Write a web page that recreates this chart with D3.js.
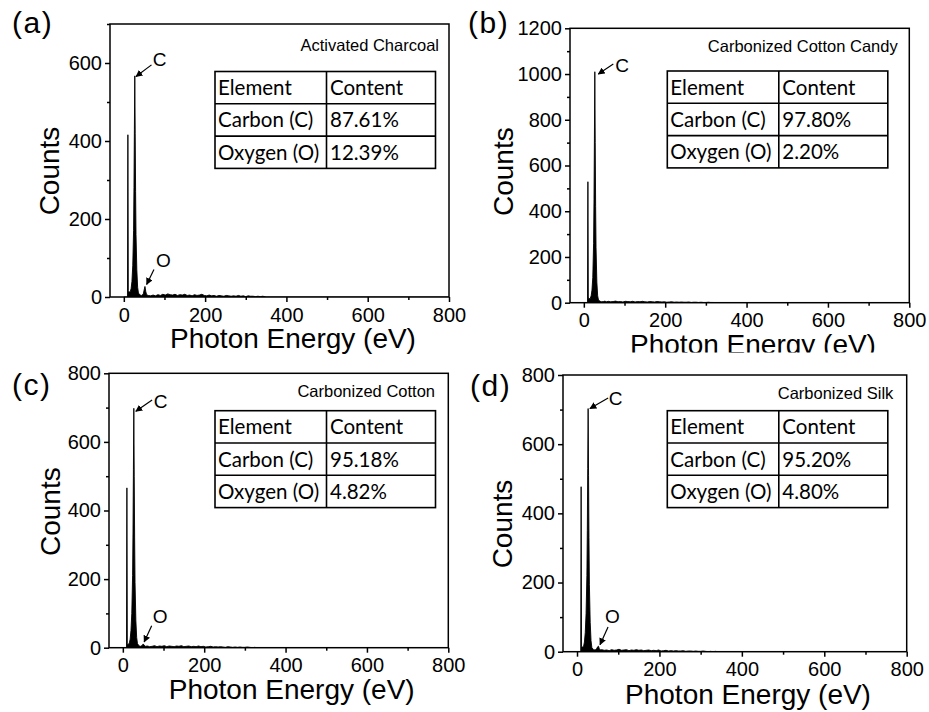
<!DOCTYPE html>
<html>
<head>
<meta charset="utf-8">
<script src="https://cdn.jsdelivr.net/npm/d3@7/dist/d3.min.js"></script>
<style>
  html, body { margin: 0; padding: 0; background: #fff; }
  svg { display: block; }
</style>
</head>
<body>
<svg id="fig" width="929" height="712"></svg>
<script>
// ---- Panel text ----
const panelTags = ["(a)", "(b)", "(c)", "(d)"];
const sampleNames = ["Activated Charcoal", "Carbonized Cotton Candy", "Carbonized Cotton", "Carbonized Silk"];
const tableHeader = ["Element", "Content"];
const elementNames = ["Carbon (C)", "Oxygen (O)"];
const carbonContent = [87.61, 97.80, 95.18, 95.20];
const oxygenContent = [12.39, 2.20, 4.82, 4.80];

// ---- Axes ----
const xRange = [-34, 800];
const xTickValues = [0, 200, 400, 600, 800];
const xMinorTicks = [100, 300, 500, 700];
const yMaxima = [700, 1200, 800, 800];
const yTicksA = [0, 200, 400, 600];
const yTicksB = [0, 200, 400, 600, 800, 1000, 1200];
const yTicksCD = [0, 200, 400, 600, 800];
const yMinorA = [100, 300, 500, 700];
const yMinorB = [100, 300, 500, 700, 900, 1100];
const yMinorCD = [100, 300, 500, 700];

// ---- Spectra: low-energy region (spike, C line, O line) ----
const peakEnergy = [0, 8, 9, 10, 11, 12, 14, 16, 18, 20, 22, 24, 25, 26, 27, 28, 29, 30, 32, 34, 36, 40, 44, 48, 50, 52, 54, 56];
const peakCountsA = [0, 0, 0, 416, 16, 14, 13, 14, 22, 40, 80, 170, 280, 430, 567, 420, 270, 160, 70, 25, 10, 5, 4, 8, 18, 27, 14, 6];
const peakCountsB = [0, 0, 0, 529, 24, 20, 18, 20, 30, 55, 110, 260, 450, 720, 1010, 700, 420, 240, 90, 30, 12, 6, 4, 5, 6, 7, 5, 4];
const peakCountsC = [0, 0, 0, 466, 12, 10, 10, 14, 25, 50, 100, 210, 340, 520, 698, 500, 320, 190, 80, 30, 12, 5, 4, 7, 11, 8, 5, 4];
const peakCountsD = [0, 0, 0, 477, 16, 14, 13, 16, 28, 55, 110, 220, 350, 530, 703, 510, 330, 195, 85, 32, 12, 6, 5, 9, 14, 16, 9, 5];

// ---- Spectra: background tail ----
const tailEnergy = [60, 66, 72, 78, 84, 90, 96, 102, 108, 114, 120, 126, 132, 138, 144, 150, 156, 162, 168, 174, 180, 186, 192, 198,
  204, 210, 216, 222, 228, 234, 240, 246, 252, 258, 264, 270, 276, 282, 288, 294, 300, 306, 312, 318, 324, 330, 336, 342, 350, 800];
const tailCountsA = [4, 3, 5, 3, 6, 4, 7, 5, 8, 6, 5, 7, 4, 6, 5, 7, 4, 5, 3, 6, 4, 5, 7, 4,
  3, 5, 3, 4, 2, 4, 3, 2, 4, 3, 2, 3, 2, 4, 2, 3, 1, 3, 2, 2, 1, 2, 1, 2, 0, 0];
const tailCountsB = [6, 4, 5, 7, 4, 5, 3, 6, 5, 4, 6, 3, 5, 4, 6, 4, 3, 5, 4, 3, 5, 4, 3, 4,
  2, 3, 4, 2, 3, 2, 3, 2, 2, 3, 1, 2, 2, 1, 2, 1, 1, 2, 1, 1, 0, 1, 0, 0, 0, 0];
const tailCountsC = [5, 3, 4, 6, 3, 5, 4, 6, 3, 5, 4, 3, 5, 4, 6, 3, 4, 5, 3, 4, 3, 5, 3, 4,
  2, 3, 4, 2, 3, 2, 3, 2, 1, 3, 2, 1, 2, 1, 2, 1, 1, 2, 1, 0, 1, 0, 0, 0, 0, 0];
const tailCountsD = [6, 4, 5, 3, 6, 4, 5, 7, 4, 5, 6, 3, 5, 4, 6, 4, 5, 3, 4, 5, 3, 4, 3, 5,
  2, 3, 4, 2, 3, 2, 3, 2, 2, 3, 1, 2, 2, 1, 2, 1, 1, 2, 1, 0, 1, 0, 1, 0, 0, 0];

// Energies of the labelled O line (none labelled in panel b)
const oxygenLineEnergy = [52, null, 50, 52];

// ---- Layout of the four panels ----
const layout = [
  { box: [110, 24, 449, 297], tag: [12, 33], yTitle: [48.5, 171], xTitle: [293, 347.5], name: [439, 50.5], table: [215, 71.5],
    cArrow: [16.7, -11, 1.2, 0.6], cText: [18, -10.3], oArrow: [9, -17, 1.7, -2], oText: [11, -19.8], yTicks: yTicksA, yMinor: yMinorA },
  { box: [570, 28.3, 909.3, 302.7], tag: [468, 33], yTitle: [503.3, 171.7], xTitle: [753, 354], name: [897.7, 52.3], table: [667.3, 71],
    cArrow: [18.5, -7.7, 3.5, 2.3], cText: [20.5, 0], clipBottom: 352.5, yTicks: yTicksB, yMinor: yMinorB },
  { box: [109, 373.3, 448.3, 647.7], tag: [12, 395], yTitle: [50, 511.7], xTitle: [291.7, 698.5], name: [435, 396.7], table: [215, 410.7],
    cArrow: [18.3, -8.3, 2, 3], cText: [20, 0], oArrow: [8.5, -18.2, 1, -2], oText: [9.5, -20.6], yTicks: yTicksCD, yMinor: yMinorCD },
  { box: [563, 375, 906.7, 651.7], tag: [470, 396], yTitle: [502, 524], xTitle: [748, 703.5], name: [893.3, 399.3], table: [667.3, 410.7],
    cArrow: [20, -10.6, 1.8, 0], cText: [20.7, -3.3], oArrow: [9.6, -19.2, 1.6, -1.5], oText: [6.6, -22.9], yTicks: yTicksCD, yMinor: yMinorCD }
];

const peakCounts = [peakCountsA, peakCountsB, peakCountsC, peakCountsD];
const tailCounts = [tailCountsA, tailCountsB, tailCountsC, tailCountsD];

const AXIS_FONT = "'Liberation Sans', Arial, Helvetica, sans-serif";
const TABLE_FONT = "Lato, 'Open Sans', sans-serif";

const svg = d3.select("#fig");
const defs = svg.append("defs");
defs.append("marker")
  .attr("id", "arrowHead")
  .attr("viewBox", "0 0 10 10")
  .attr("refX", 9).attr("refY", 5)
  .attr("markerWidth", 7).attr("markerHeight", 7)
  .attr("markerUnits", "userSpaceOnUse")
  .attr("orient", "auto")
  .append("path").attr("d", "M0,0 L10,5 L0,10 Z").attr("fill", "#000");

layout.forEach((L, i) => {
  const [left, top, right, bottom] = L.box;
  const g = svg.append("g").attr("class", "panel");
  const x = d3.scaleLinear().domain(xRange).range([left, right]);
  const y = d3.scaleLinear().domain([0, yMaxima[i]]).range([bottom, top]);

  // spectrum points
  const series = peakEnergy.map((e, k) => [e, peakCounts[i][k]])
    .concat(tailEnergy.map((e, k) => [e, tailCounts[i][k]]));

  const clipId = "plotClip" + i;
  defs.append("clipPath").attr("id", clipId)
    .append("rect").attr("x", left).attr("y", top).attr("width", right - left).attr("height", bottom - top);

  const plot = g.append("g").attr("clip-path", `url(#${clipId})`);
  plot.append("path")
    .datum(series)
    .attr("d", d3.area().x(d => x(d[0])).y0(y(0)).y1(d => y(d[1])))
    .attr("fill", "#000");
  plot.append("path")
    .datum(series)
    .attr("d", d3.line().x(d => x(d[0])).y(d => y(d[1])))
    .attr("fill", "none").attr("stroke", "#000").attr("stroke-width", 0.9);

  // axes
  const styleAxis = sel => {
    sel.select(".domain").remove();
    sel.selectAll("line").attr("stroke", "#000").attr("stroke-width", 1.5);
    sel.selectAll("text").attr("font-family", AXIS_FONT).attr("font-size", 20).attr("fill", "#000");
  };
  g.append("g").attr("transform", `translate(0,${bottom})`)
    .call(d3.axisBottom(x).tickValues(xTickValues).tickSize(5).tickPadding(5.5).tickFormat(d3.format("d")))
    .call(styleAxis);
  g.append("g").attr("transform", `translate(0,${bottom})`)
    .call(d3.axisBottom(x).tickValues(xMinorTicks).tickSize(3).tickFormat(""))
    .call(styleAxis);
  g.append("g").attr("transform", `translate(${left},0)`)
    .call(d3.axisLeft(y).tickValues(L.yTicks).tickSize(5).tickPadding(3).tickFormat(d3.format("d")))
    .call(styleAxis);
  g.append("g").attr("transform", `translate(${left},0)`)
    .call(d3.axisLeft(y).tickValues(L.yMinor).tickSize(3).tickFormat(""))
    .call(styleAxis);

  // frame
  g.append("rect")
    .attr("x", left).attr("y", top).attr("width", right - left).attr("height", bottom - top)
    .attr("fill", "none").attr("stroke", "#000").attr("stroke-width", 1.5);

  // axis titles
  const xTitle = g.append("text")
    .attr("x", L.xTitle[0]).attr("y", L.xTitle[1])
    .attr("text-anchor", "middle")
    .attr("font-family", AXIS_FONT).attr("font-size", 28).attr("fill", "#000")
    .text("Photon Energy (eV)");
  if (L.clipBottom) {
    const tid = "titleClip" + i;
    defs.append("clipPath").attr("id", tid)
      .append("rect").attr("x", 0).attr("y", 0).attr("width", 929).attr("height", L.clipBottom);
    xTitle.attr("clip-path", `url(#${tid})`);
  }
  g.append("text")
    .attr("transform", `translate(${L.yTitle[0] + 10},${L.yTitle[1]}) rotate(-90)`)
    .attr("text-anchor", "middle")
    .attr("font-family", AXIS_FONT).attr("font-size", 28).attr("fill", "#000")
    .text("Counts");

  // panel tag
  g.append("text")
    .attr("x", L.tag[0]).attr("y", L.tag[1])
    .attr("font-family", AXIS_FONT).attr("font-size", 30).attr("letter-spacing", 1.5).attr("fill", "#000")
    .text(panelTags[i]);

  // sample name
  g.append("text")
    .attr("x", L.name[0]).attr("y", L.name[1])
    .attr("text-anchor", "end")
    .attr("font-family", AXIS_FONT).attr("font-size", 16.5).attr("fill", "#000")
    .text(sampleNames[i]);

  // C line annotation, anchored at the spectrum maximum
  const cMax = d3.greatest(series, d => d[1]);
  const cx = x(cMax[0]), cy = y(cMax[1]);
  g.append("line")
    .attr("x1", cx + L.cArrow[0]).attr("y1", cy + L.cArrow[1])
    .attr("x2", cx + L.cArrow[2]).attr("y2", cy + L.cArrow[3])
    .attr("stroke", "#000").attr("stroke-width", 1.2)
    .attr("marker-end", "url(#arrowHead)");
  g.append("text")
    .attr("x", cx + L.cText[0]).attr("y", cy + L.cText[1])
    .attr("font-family", AXIS_FONT).attr("font-size", 19).attr("fill", "#000")
    .text("C");

  // O line annotation
  if (oxygenLineEnergy[i] !== null) {
    const oPt = series.find(d => d[0] === oxygenLineEnergy[i]);
    const ox = x(oPt[0]), oy = y(oPt[1]);
    g.append("line")
      .attr("x1", ox + L.oArrow[0]).attr("y1", oy + L.oArrow[1])
      .attr("x2", ox + L.oArrow[2]).attr("y2", oy + L.oArrow[3])
      .attr("stroke", "#000").attr("stroke-width", 1.2)
      .attr("marker-end", "url(#arrowHead)");
    g.append("text")
      .attr("x", ox + L.oText[0]).attr("y", oy + L.oText[1])
      .attr("font-family", AXIS_FONT).attr("font-size", 19).attr("fill", "#000")
      .text("O");
  }

  // composition table
  const rows = [tableHeader,
    [elementNames[0], carbonContent[i].toFixed(2) + "%"],
    [elementNames[1], oxygenContent[i].toFixed(2) + "%"]];
  const colW = [111.5, 109];
  const rowH = 32.3;
  const [tx, ty] = L.table;
  const tw = colW[0] + colW[1], th = rowH * rows.length;
  const tg = g.append("g");
  tg.append("rect").attr("x", tx).attr("y", ty).attr("width", tw).attr("height", th)
    .attr("fill", "#fff").attr("stroke", "#000").attr("stroke-width", 1.6);
  rows.forEach((r, k) => {
    if (k > 0) {
      tg.append("line").attr("x1", tx).attr("x2", tx + tw)
        .attr("y1", ty + k * rowH).attr("y2", ty + k * rowH)
        .attr("stroke", "#000").attr("stroke-width", 1.6);
    }
    r.forEach((cell, c) => {
      tg.append("text")
        .attr("x", tx + (c === 0 ? 3 : colW[0] + 3.5))
        .attr("y", ty + k * rowH + 23.5)
        .attr("font-family", TABLE_FONT).attr("font-size", 20.5).attr("fill", "#000")
        .text(cell);
    });
  });
  tg.append("line").attr("x1", tx + colW[0]).attr("x2", tx + colW[0])
    .attr("y1", ty).attr("y2", ty + th)
    .attr("stroke", "#000").attr("stroke-width", 1.6);
});
</script>
</body>
</html>
